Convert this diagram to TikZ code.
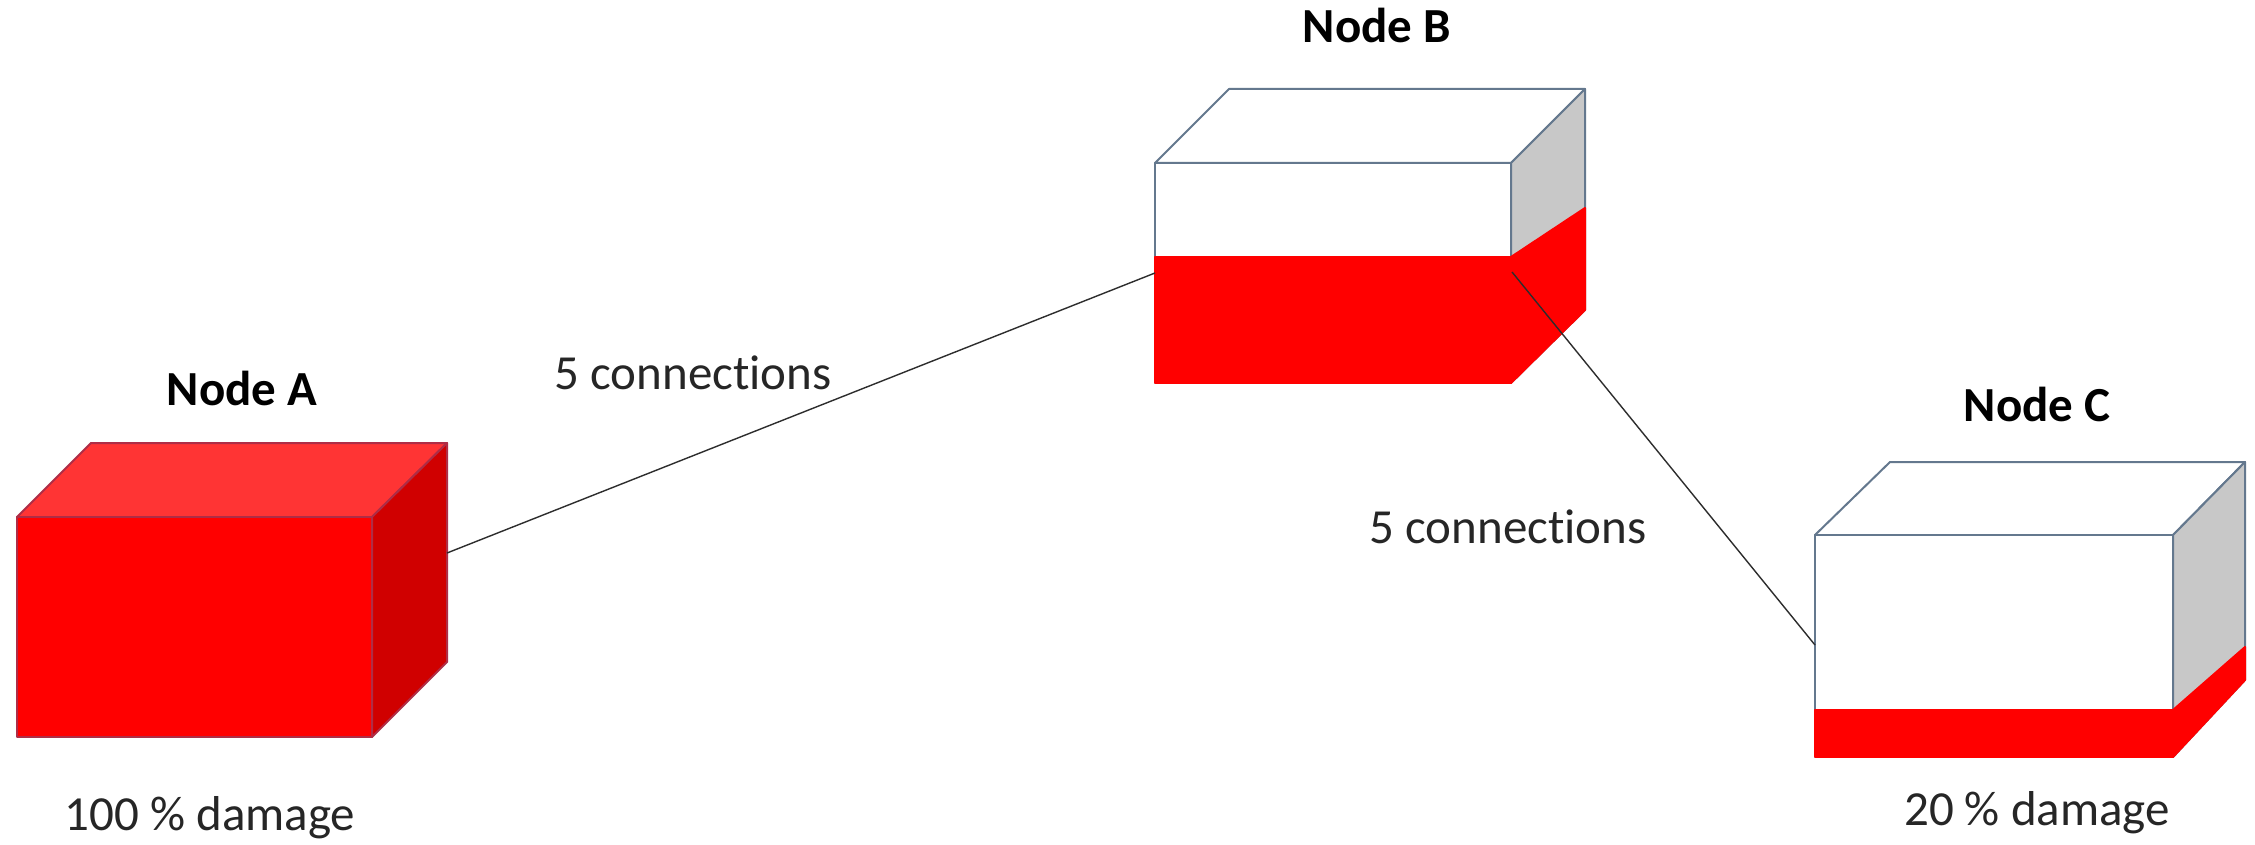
\documentclass[tikz,border=0pt]{standalone}
\usepackage{fontspec}
\setmainfont{Carlito}[Ligatures=NoCommon]
\definecolor{redface}{RGB}{255,0,0}
\definecolor{redtop}{RGB}{255,52,52}
\definecolor{redside}{RGB}{208,0,0}
\definecolor{rededge}{RGB}{175,45,70}
\definecolor{greyedge}{RGB}{100,120,142}
\definecolor{greyside}{RGB}{200,200,200}
\definecolor{conncol}{RGB}{45,45,45}
\tikzset{
  redbox/.style={draw=rededge, line width=1pt, line join=round},
  whitebox/.style={draw=greyedge, line width=1pt, line join=round},
  damage/.style={fill=redface, draw=redface, line width=1pt, line join=round},
  conn/.style={draw=conncol, line width=0.7pt},
  title/.style={font=\fontsize{24.5}{29}\selectfont\bfseries, anchor=base, inner sep=0pt},
  lbl/.style={font=\fontsize{24.5}{29}\selectfont, anchor=base, inner sep=0pt, text=black!85}
}
\begin{document}
\begin{tikzpicture}[x=0.5pt,y=-0.5pt]
\useasboundingbox (0,0) rectangle (2255,845);
\fill[white] (0,0) rectangle (2255,845);

% ---- Box A ----
\path[redbox, fill=redtop] (17,517) -- (91,443) -- (447,443) -- (372,517) -- cycle;
\path[redbox, fill=redside] (372,517) -- (447,443) -- (447,662) -- (372,737) -- cycle;
\path[redbox, fill=redface] (17,517) rectangle (372,737);

% ---- Box B ----
\path[whitebox, fill=white] (1155,163) -- (1229,89) -- (1585,89) -- (1511,163) -- cycle;
\path[whitebox, fill=greyside] (1511,163) -- (1585,89) -- (1585,310) -- (1511,383) -- cycle;
\path[whitebox, fill=white] (1155,163) rectangle (1511,383);
\path[damage] (1155,257) rectangle (1511,383);
\path[damage] (1511,257) -- (1585,208) -- (1585,310) -- (1511,383) -- cycle;

% ---- Box C ----
\path[whitebox, fill=white] (1815,535) -- (1890,462) -- (2245,462) -- (2173,535) -- cycle;
\path[whitebox, fill=greyside] (2173,535) -- (2245,462) -- (2245,680) -- (2173,757) -- cycle;
\path[whitebox, fill=white] (1815,535) rectangle (2173,757);
\path[damage] (1815,710) rectangle (2173,757);
\path[damage] (2173,710) -- (2245,647) -- (2245,680) -- (2173,757) -- cycle;

% ---- connector ends ----
\coordinate (Aport) at (447,553);
\coordinate (Bin) at (1155,273);
\coordinate (Bout) at (1512,272);
\coordinate (Cin) at (1815,645);
\draw[conn] (Aport) -- (Bin);
\draw[conn] (Bout) -- (Cin);

% ---- labels ----
\node[title] (tA) at (242,405) {Node A};
\node[title] (tB) at (1377,43) {Node B};
\node[title] (tC) at (2037,422) {Node C};
\node[lbl] (dA) at (210,830) {100 \% damage};
\node[lbl] (dC) at (2037,825) {20 \% damage};
\node[lbl] (c1) at (693,389) {5 connections};
\node[lbl] (c2) at (1508,543) {5 connections};
\end{tikzpicture}
\end{document}
